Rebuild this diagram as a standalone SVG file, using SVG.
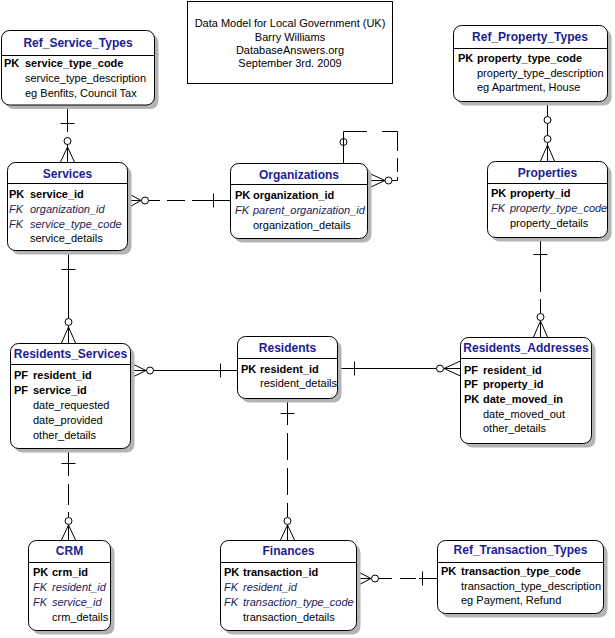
<svg xmlns="http://www.w3.org/2000/svg" width="615" height="638" viewBox="0 0 615 638">
<style>
.bg{fill:#fff}
.sh{fill:#b4b4b4}
.box{fill:#fff;stroke:#000;stroke-width:1}
.sep{stroke:#000;stroke-width:1}
.hdr{font-family:"Liberation Sans",Arial,sans-serif;font-weight:bold;font-size:12px;fill:#1c1c94;text-anchor:middle}
.k{font-family:"Liberation Sans",Arial,sans-serif;font-weight:bold;font-size:11px;fill:#000}
.f{font-family:"Liberation Sans",Arial,sans-serif;font-size:11px;fill:#000}
.fk{font-family:"Liberation Sans",Arial,sans-serif;font-style:italic;font-size:11px;fill:#1a1a58}
.t{font-family:"Liberation Sans",Arial,sans-serif;font-size:11px;fill:#000;text-anchor:middle}
.ln{stroke:#000;stroke-width:1;fill:none}
.c{stroke:#000;stroke-width:1;fill:#fff}
</style>
<rect class="bg" x="0" y="0" width="615" height="638"/>

<g id="title">
<rect x="187.5" y="1.5" width="205" height="82" fill="#fff" stroke="#000"/>
<text class="t" x="290" y="27">Data Model for Local Government (UK)</text>
<text class="t" x="290" y="41">Barry Williams</text>
<text class="t" x="290" y="54">DatabaseAnswers.org</text>
<text class="t" x="290" y="67">September 3rd. 2009</text>
</g>

<g id="connectors">
<!-- Ref_Service_Types -> Services -->
<path class="ln" d="M67.5,105 V132 M67.5,137 V162"/>
<path class="ln" d="M60.5,123.5 H74.5"/>
<circle class="c" cx="67.5" cy="141" r="3.5"/>
<path class="ln" d="M60.5,162 L67.5,147 L74.5,162 M67.5,144.5 V162"/>
<!-- Services -> Organizations -->
<path class="ln" d="M127.5,193 L141,200.5 L127.5,208 M127.5,200.5 H141.5"/>
<circle class="c" cx="145" cy="200.5" r="3.5"/>
<path class="ln" d="M148.5,200.5 H160 M167,200.5 H185 M192,200.5 H230.5 M213.5,193.5 V207.5"/>
<!-- Organizations self-loop -->
<path class="ln" d="M343.5,163 V131.5 H367 M382,131.5 H397.5 V151 M397.5,158 V172 M397.5,177 V180.5 H392"/>
<circle class="c" cx="343.5" cy="142" r="3.5"/>
<path class="ln" d="M343.5,138 V146"/>
<path class="ln" d="M368.5,173 L385,180.5 L368.5,188 M368.5,180.5 H385"/>
<circle class="c" cx="388.5" cy="180.5" r="3.5"/>
<!-- Services -> Residents_Services -->
<path class="ln" d="M68.5,250.5 V318.5 M68.5,325.5 V343"/>
<path class="ln" d="M61.5,269.5 H75.5"/>
<circle class="c" cx="68.5" cy="322" r="3.5"/>
<path class="ln" d="M61.5,343 L68.5,327 L75.5,343"/>
<!-- Residents_Services -> Residents -->
<path class="ln" d="M130.5,363 L146,370.5 L130.5,378 M130.5,370.5 H146.5 M153.5,370.5 H237.5"/>
<circle class="c" cx="150" cy="370.5" r="3.5"/>
<path class="ln" d="M220.5,363.5 V377.5"/>
<!-- Residents -> Residents_Addresses -->
<path class="ln" d="M337.5,368.5 H436.5 M443.5,368.5 H460.5"/>
<path class="ln" d="M354.5,361.5 V375.5"/>
<circle class="c" cx="440" cy="368.5" r="3.5"/>
<path class="ln" d="M460.5,361 L444,368.5 L460.5,376"/>
<!-- Properties -> Residents_Addresses -->
<path class="ln" d="M540.5,237.5 V292 M540.5,299 V313.5 M540.5,320.5 V337"/>
<path class="ln" d="M533.5,254.5 H547.5"/>
<circle class="c" cx="540.5" cy="317" r="3.5"/>
<path class="ln" d="M533.5,337 L540.5,321 L547.5,337"/>
<!-- Ref_Property_Types -> Properties -->
<path class="ln" d="M547.5,101.5 V116.5 M547.5,123.5 V135.5 M547.5,142.5 V161"/>
<circle class="c" cx="547.5" cy="120" r="3.5"/>
<circle class="c" cx="547.5" cy="139" r="3.5"/>
<path class="ln" d="M540.5,161 L547.5,145 L554.5,161"/>
<!-- Residents_Services -> CRM -->
<path class="ln" d="M68.5,448.5 V476 M68.5,484 V505 M68.5,512 V517.5 M68.5,524.5 V540"/>
<path class="ln" d="M61.5,463.5 H75.5"/>
<circle class="c" cx="68.5" cy="521" r="3.5"/>
<path class="ln" d="M61.5,540 L68.5,525 L75.5,540"/>
<!-- Residents -> Finances -->
<path class="ln" d="M287.5,398.5 V425 M287.5,433 V460 M287.5,468 V495 M287.5,503 V517.5 M287.5,524.5 V540"/>
<path class="ln" d="M280.5,413.5 H294.5"/>
<circle class="c" cx="287.5" cy="521" r="3.5"/>
<path class="ln" d="M280.5,540 L287.5,525 L294.5,540"/>
<!-- Finances -> Ref_Transaction_Types -->
<path class="ln" d="M356.5,571 L371,578.5 L356.5,586 M356.5,578.5 H371.5"/>
<circle class="c" cx="375" cy="578.5" r="3.5"/>
<path class="ln" d="M378.5,578.5 H392 M400,578.5 H416 M419,578.5 H437.5 M422.5,571.5 V585.5"/>
</g>

<g id="ref_service_types">
<rect class="sh" x="5.5" y="34.5" width="153" height="74.5" rx="8"/>
<rect class="box" x="1.5" y="30.5" width="153" height="74.5" rx="8"/>
<text class="hdr" x="78" y="47">Ref_Service_Types</text>
<line class="sep" x1="1.5" y1="55.5" x2="154.5" y2="55.5"/>
<text class="k" x="4" y="67">PK</text><text class="k" x="25" y="67">service_type_code</text>
<text class="f" x="25" y="82">service_type_description</text>
<text class="f" x="25" y="97">eg Benfits, Council Tax</text>
</g>

<g id="services">
<rect class="sh" x="11.5" y="166.5" width="120" height="88" rx="8"/>
<rect class="box" x="7.5" y="162.5" width="120" height="88" rx="8"/>
<text class="hdr" x="67.5" y="178">Services</text>
<line class="sep" x1="7.5" y1="183.5" x2="127.5" y2="183.5"/>
<text class="k" x="9" y="198">PK</text><text class="k" x="30" y="198">service_id</text>
<text class="fk" x="9" y="213">FK</text><text class="fk" x="30" y="213">organization_id</text>
<text class="fk" x="9" y="228">FK</text><text class="fk" x="30" y="228">service_type_code</text>
<text class="f" x="30" y="242">service_details</text>
</g>

<g id="organizations">
<rect class="sh" x="234.5" y="167.5" width="137" height="75" rx="8"/>
<rect class="box" x="230.5" y="163.5" width="137" height="75" rx="8"/>
<text class="hdr" x="299" y="179">Organizations</text>
<line class="sep" x1="230.5" y1="184.5" x2="367.5" y2="184.5"/>
<text class="k" x="235" y="199">PK</text><text class="k" x="253" y="199">organization_id</text>
<text class="fk" x="235" y="214">FK</text><text class="fk" x="253" y="214">parent_organization_id</text>
<text class="f" x="253" y="229">organization_details</text>
</g>

<g id="ref_property_types">
<rect class="sh" x="457.5" y="29.5" width="154" height="76" rx="8"/>
<rect class="box" x="453.5" y="25.5" width="154" height="76" rx="8"/>
<text class="hdr" x="530" y="41">Ref_Property_Types</text>
<line class="sep" x1="453.5" y1="48.5" x2="607.5" y2="48.5"/>
<text class="k" x="458" y="62">PK</text><text class="k" x="477" y="62">property_type_code</text>
<text class="f" x="477" y="77">property_type_description</text>
<text class="f" x="477" y="91">eg Apartment, House</text>
</g>

<g id="properties">
<rect class="sh" x="491.5" y="165.5" width="120" height="76" rx="8"/>
<rect class="box" x="487.5" y="161.5" width="120" height="76" rx="8"/>
<text class="hdr" x="547.5" y="177">Properties</text>
<line class="sep" x1="487.5" y1="183.5" x2="607.5" y2="183.5"/>
<text class="k" x="491" y="197">PK</text><text class="k" x="510" y="197">property_id</text>
<text class="fk" x="491" y="212">FK</text><text class="fk" x="510" y="212">property_type_code</text>
<text class="f" x="510" y="227">property_details</text>
</g>

<g id="residents_services">
<rect class="sh" x="14.5" y="347.5" width="120" height="105" rx="8"/>
<rect class="box" x="10.5" y="343.5" width="120" height="105" rx="8"/>
<text class="hdr" x="70.5" y="358">Residents_Services</text>
<line class="sep" x1="10.5" y1="364.5" x2="130.5" y2="364.5"/>
<text class="k" x="14" y="379">PF</text><text class="k" x="33" y="379">resident_id</text>
<text class="k" x="14" y="394">PF</text><text class="k" x="33" y="394">service_id</text>
<text class="f" x="33" y="409">date_requested</text>
<text class="f" x="33" y="424">date_provided</text>
<text class="f" x="33" y="438.5">other_details</text>
</g>

<g id="residents">
<rect class="sh" x="241.5" y="340.5" width="100" height="62" rx="8"/>
<rect class="box" x="237.5" y="336.5" width="100" height="62" rx="8"/>
<text class="hdr" x="287.5" y="352">Residents</text>
<line class="sep" x1="237.5" y1="358.5" x2="337.5" y2="358.5"/>
<text class="k" x="241" y="373">PK</text><text class="k" x="260" y="373">resident_id</text>
<text class="f" x="260" y="387">resident_details</text>
</g>

<g id="residents_addresses">
<rect class="sh" x="464.5" y="341.5" width="131" height="106" rx="8"/>
<rect class="box" x="460.5" y="337.5" width="131" height="106" rx="8"/>
<text class="hdr" x="526" y="352">Residents_Addresses</text>
<line class="sep" x1="460.5" y1="358.5" x2="591.5" y2="358.5"/>
<text class="k" x="464" y="373.5">PF</text><text class="k" x="483" y="373.5">resident_id</text>
<text class="k" x="464" y="388">PF</text><text class="k" x="483" y="388">property_id</text>
<text class="k" x="464" y="403">PK</text><text class="k" x="483" y="403">date_moved_in</text>
<text class="f" x="483" y="417.5">date_moved_out</text>
<text class="f" x="483" y="432">other_details</text>
</g>

<g id="crm">
<rect class="sh" x="32.5" y="544.5" width="82" height="90" rx="8"/>
<rect class="box" x="28.5" y="540.5" width="82" height="90" rx="8"/>
<text class="hdr" x="69.5" y="555">CRM</text>
<line class="sep" x1="28.5" y1="562.5" x2="110.5" y2="562.5"/>
<text class="k" x="33" y="576">PK</text><text class="k" x="52" y="576">crm_id</text>
<text class="fk" x="33" y="591">FK</text><text class="fk" x="52" y="591">resident_id</text>
<text class="fk" x="33" y="606">FK</text><text class="fk" x="52" y="606">service_id</text>
<text class="f" x="52" y="621">crm_details</text>
</g>

<g id="finances">
<rect class="sh" x="224.5" y="544.5" width="136" height="90" rx="8"/>
<rect class="box" x="220.5" y="540.5" width="136" height="90" rx="8"/>
<text class="hdr" x="288.5" y="555">Finances</text>
<line class="sep" x1="220.5" y1="562.5" x2="356.5" y2="562.5"/>
<text class="k" x="224" y="576">PK</text><text class="k" x="243" y="576">transaction_id</text>
<text class="fk" x="224" y="591">FK</text><text class="fk" x="243" y="591">resident_id</text>
<text class="fk" x="224" y="606">FK</text><text class="fk" x="243" y="606">transaction_type_code</text>
<text class="f" x="243" y="621">transaction_details</text>
</g>

<g id="ref_transaction_types">
<rect class="sh" x="441.5" y="544.5" width="166" height="73" rx="8"/>
<rect class="box" x="437.5" y="540.5" width="166" height="73" rx="8"/>
<text class="hdr" x="520.5" y="554">Ref_Transaction_Types</text>
<line class="sep" x1="437.5" y1="562.5" x2="603.5" y2="562.5"/>
<text class="k" x="441" y="575">PK</text><text class="k" x="461" y="575">transaction_type_code</text>
<text class="f" x="461" y="590">transaction_type_description</text>
<text class="f" x="461" y="604">eg Payment, Refund</text>
</g>
</svg>
